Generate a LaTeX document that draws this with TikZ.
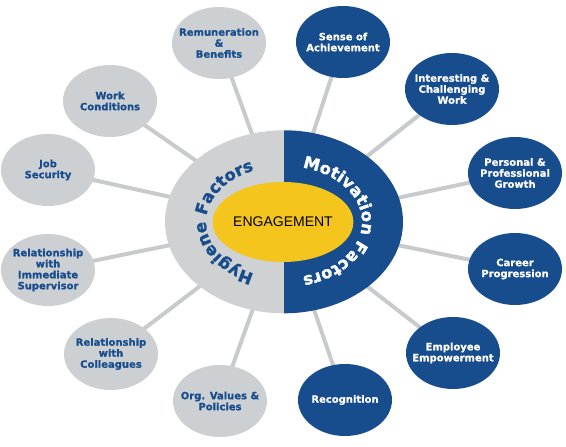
\documentclass[tikz,border=0pt]{standalone}
\usepackage{fontspec}
\setmainfont{Liberation Sans}
\newfontfamily\dejab{DejaVu Sans Bold}[FakeBold=0.7]
\newfontfamily\arcfam{DejaVu Sans Bold}[FakeBold=1.6]
\usetikzlibrary{shapes.geometric,decorations.text,backgrounds}
\definecolor{hblue}{HTML}{174D8C}
\definecolor{hgray}{HTML}{CDD0D3}
\definecolor{ringgray}{HTML}{CFD1D3}
\definecolor{hyellow}{HTML}{F4C51C}
\definecolor{linegray}{HTML}{C8CACC}
\newcommand\arcfont{\arcfam\fontsize{16.5}{16.5}\selectfont}
\newcommand\satfont{\dejab\fontsize{10}{11}\selectfont}
\begin{document}
\begin{tikzpicture}[x=1pt,y=1pt,
  sat/.style={ellipse, minimum width=94pt, minimum height=72pt, inner sep=0pt},
  hyg/.style={sat, fill=hgray},
  mot/.style={sat, fill=hblue},
  hyglabel/.style={text=hblue, font=\satfont, align=center},
  motlabel/.style={text=white, font=\satfont, align=center},
  spoke/.style={draw=linegray, line width=4pt}]
\useasboundingbox (0,0) rectangle (566,447);
% core
\node[ellipse, minimum width=238pt, minimum height=183pt, inner sep=0pt] (core) at (284,225) {};
\fill[ringgray] (core.north) arc[start angle=90, end angle=270, x radius=119, y radius=91.5] -- cycle;
\fill[hblue] (core.north) arc[start angle=90, end angle=-90, x radius=119, y radius=91.5] -- cycle;
\node[ellipse, fill=hyellow, minimum width=120pt, minimum height=80pt, inner sep=0pt,
  font=\fontsize{14}{14}\selectfont] (eng) at (283,225) {ENGAGEMENT};
% curved titles
\path[decorate, decoration={text along path, text align=center, text color=hblue,
  text={|\arcfont|Hygiene Factors}}]
  (core.center) ++({78*cos(250)},{56*sin(250)}) arc[start angle=250, end angle=110, x radius=78, y radius=56];
\path[decorate, decoration={text along path, text align=center, text color=white,
  text={|\arcfont|Motivation Factors}}]
  (core.center) ++({78*cos(110)},{56*sin(110)}) arc[start angle=110, end angle=-110, x radius=78, y radius=56];
% hygiene satellites
\node[hyg, label={[hyglabel]center:Remuneration\\\&\\Benefits}] (rem) at (219,404) {};
\node[hyg, label={[hyglabel]center:Work\\Conditions}] (work) at (110,346) {};
\node[hyg, label={[hyglabel]center:Job\\Security}] (job) at (48,277) {};
\node[hyg, label={[hyglabel]center:Relationship\\with\\Immediate\\Supervisor}] (sup) at (48,177) {};
\node[hyg, label={[hyglabel]center:Relationship\\with\\Colleagues}] (col) at (111,93) {};
\node[hyg, label={[hyglabel]center:Org. Values \&\\Policies}] (org) at (220,46) {};
% motivation satellites
\node[mot, label={[motlabel]center:Sense of\\Achievement}] (ach) at (343,405) {};
\node[mot, label={[motlabel]center:Interesting \&\\Challenging\\Work}] (int) at (452,358) {};
\node[mot, label={[motlabel]center:Personal \&\\Professional\\Growth}] (pers) at (515,274) {};
\node[mot, label={[motlabel]center:Career\\Progression}] (car) at (515,178) {};
\node[mot, label={[motlabel]center:Employee\\Empowerment}] (emp) at (453,94) {};
\node[mot, label={[motlabel]center:Recognition}] (rec) at (345,47) {};
% spokes
\begin{scope}[on background layer]
\foreach \s in {rem,work,job,sup,col,org,ach,int,pers,car,emp,rec}
  \draw[spoke] (core.center) -- (\s.center);
\end{scope}
\end{tikzpicture}
\end{document}
